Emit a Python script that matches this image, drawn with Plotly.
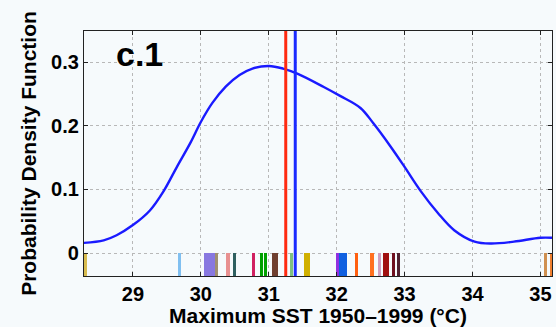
import plotly.graph_objects as go

# PDF curve
pdf_x = [28.27, 28.57, 28.76, 29.0, 29.25, 29.45, 29.65, 29.85, 30.0, 30.17, 30.37, 30.57,
         30.76, 31.0, 31.21, 31.42, 31.81, 32.05, 32.35, 32.54, 32.79, 32.99, 33.24, 33.49,
         33.73, 34.03, 34.27, 34.61, 35.0, 35.17]
pdf_y = [0.016, 0.020, 0.028, 0.044, 0.067, 0.097, 0.136, 0.174, 0.206, 0.236, 0.262, 0.280,
         0.290, 0.294, 0.290, 0.282, 0.261, 0.247, 0.228, 0.204, 0.168, 0.137, 0.097, 0.063,
         0.036, 0.018, 0.015, 0.018, 0.024, 0.024]

# Individual model values (rug) and their colours
model_x = [28.30, 29.68, 30.07, 30.11, 30.15, 30.19, 30.23, 30.40, 30.49, 30.77, 30.90, 30.95,
           31.07, 31.11, 31.34, 31.54, 31.58, 32.01, 32.06, 32.10, 32.13, 32.29, 32.52, 32.63,
           32.71, 32.75, 32.84, 32.91, 35.07, 35.16]
model_c = ["#d8bc50", "#80bff0", "#8878e0", "#8878e0", "#8878e0", "#8878e0", "#a09070", "#e89090",
           "#2f6060", "#d02060", "#00a000", "#00a000", "#704030", "#704030", "#80c080", "#d0b000",
           "#d0b000", "#9030e0", "#1060e0", "#1060e0", "#1060e0", "#ff6010", "#ff7020", "#d0a0c0",
           "#a01010", "#a01010", "#701020", "#502030", "#d09050", "#f08030"]

obs_red = 31.25
obs_blue = 31.39

y_lo, y_hi = -0.036, 0.349
x_lo, x_hi = 28.28, 35.17

x_ticks = [29, 30, 31, 32, 33, 34, 35]
y_ticks = [0, 0.1, 0.2, 0.3]
y_tick_text = ["0", "0.1", "0.2", "0.3"]

bg = "#f6fafc"
font = "Liberation Sans, Arial, Helvetica, sans-serif"

fig = go.Figure()

fig.add_trace(go.Bar(x=model_x, y=[0 - y_lo] * len(model_x), base=y_lo, width=0.045,
                     marker=dict(color=model_c, line=dict(width=0)), showlegend=False))

fig.add_trace(go.Scatter(x=pdf_x, y=pdf_y, mode="lines",
                         line=dict(color="#1a1aff", width=2.4, shape="spline", smoothing=1.0),
                         showlegend=False))

fig.add_trace(go.Scatter(x=[obs_red, obs_red], y=[y_lo, y_hi], mode="lines",
                         line=dict(color="#ff2a10", width=3), showlegend=False))
fig.add_trace(go.Scatter(x=[obs_blue, obs_blue], y=[y_lo, y_hi], mode="lines",
                         line=dict(color="#1a2aff", width=3), showlegend=False))

fig.add_annotation(x=28.72, y=0.313, xref="x", yref="y", text="<b>c.1</b>", showarrow=False,
                   xanchor="left", yanchor="middle", font=dict(family=font, size=34, color="black"))

axis_common = dict(showline=True, linecolor="#222", linewidth=1.2, mirror="ticks",
                   ticks="inside", ticklen=4, tickcolor="#222",
                   showgrid=True, gridcolor="#b8b8b8", griddash="dot", gridwidth=1,
                   zeroline=False,
                   tickfont=dict(family=font, size=20, color="black", weight="bold"))

fig.update_xaxes(range=[x_lo, x_hi], tickvals=x_ticks, **axis_common,
                 title=dict(text="<b>Maximum SST 1950–1999 (°C)</b>",
                            font=dict(family=font, size=21, color="black"), standoff=2))
fig.update_yaxes(range=[y_lo, y_hi], tickvals=y_ticks, ticktext=y_tick_text, **axis_common,
                 title=dict(text="<b>Probability Density Function</b>",
                            font=dict(family=font, size=21, color="black"), standoff=8))

fig.update_layout(width=556, height=327, margin=dict(l=84, r=4, t=31, b=51),
                  paper_bgcolor=bg, plot_bgcolor=bg, barmode="overlay", bargap=0)

fig.write_html("out.html")
